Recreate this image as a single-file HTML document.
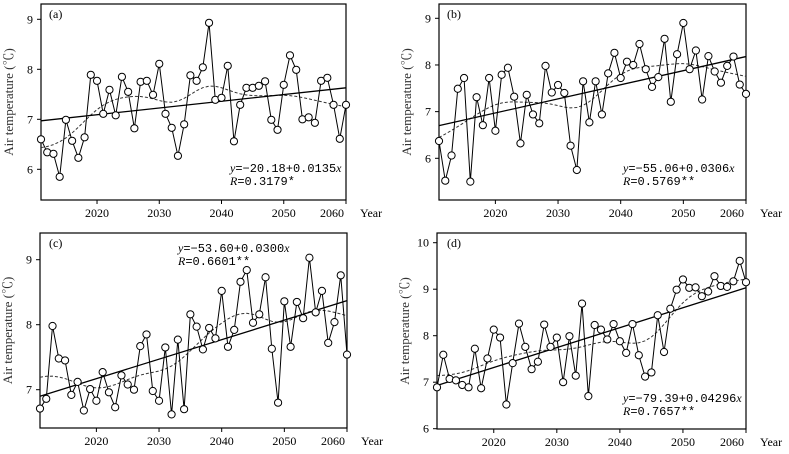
<!DOCTYPE html>
<html><head><meta charset="utf-8"><style>
body{margin:0;background:#fff;}
svg{display:block;font-family:"Liberation Serif","Noto Serif CJK SC",serif;}
</style></head><body>
<svg id="chart" width="789" height="454" viewBox="0 0 789 454" xmlns="http://www.w3.org/2000/svg"></svg>
<script>
const years = Array.from({length:50},(_,i)=>2011+i);
const xTicks = [2020,2030,2040,2050,2060];
const seriesA = [6.6,6.34,6.31,5.85,6.99,6.57,6.23,6.64,7.89,7.77,7.11,7.59,7.08,7.85,7.55,6.82,7.75,7.77,7.49,8.11,7.11,6.83,6.27,6.9,7.88,7.77,8.04,8.93,7.39,7.43,8.07,6.56,7.29,7.63,7.63,7.67,7.76,6.99,6.79,7.69,8.28,7.99,7.0,7.04,6.93,7.77,7.83,7.29,6.61,7.29];
const seriesB = [6.37,5.52,6.06,7.49,7.72,5.5,7.31,6.71,7.72,6.59,7.79,7.94,7.32,6.32,7.36,6.94,6.75,7.98,7.41,7.57,7.4,6.27,5.75,7.65,6.77,7.65,6.94,7.82,8.26,7.72,8.07,8.0,8.45,7.91,7.53,7.74,8.56,7.21,8.23,8.9,7.91,8.31,7.26,8.19,7.86,7.62,7.98,8.18,7.58,7.38];
const seriesC = [6.71,6.86,7.98,7.48,7.45,6.92,7.12,6.68,7.01,6.83,7.27,6.96,6.73,7.22,7.08,7.0,7.67,7.85,6.98,6.83,7.65,6.62,7.77,6.7,8.16,7.97,7.62,7.95,7.79,8.52,7.66,7.92,8.66,8.84,8.03,8.16,8.73,7.63,6.8,8.36,7.66,8.35,8.1,9.03,8.19,8.52,7.72,8.04,8.76,7.54];
const seriesD = [6.89,7.59,7.07,7.04,6.94,6.89,7.72,6.87,7.51,8.13,7.96,6.52,7.41,8.26,7.76,7.28,7.44,8.24,7.76,7.96,7.0,7.99,7.14,8.69,6.7,8.23,8.13,7.92,8.25,7.88,7.63,8.25,7.58,7.12,7.21,8.44,7.65,8.58,8.99,9.21,9.03,9.04,8.85,8.95,9.28,9.07,9.05,9.17,9.61,9.15];
const trendStart = [6.97,6.7,6.9,6.93];
const trendEnd = [7.63,8.18,8.37,9.03];
const yTicksA=[6,7,8,9], yTicksB=[6,7,8,9], yTicksC=[7,8,9], yTicksD=[6,7,8,9,10];
const labels=["(a)","(b)","(c)","(d)"];
const eqNums=["−20.18+0.0135","−55.06+0.0306","−53.60+0.0300","−79.39+0.04296"];
const rs=["0.3179*","0.5769**","0.6601**","0.7657**"];

const NS="http://www.w3.org/2000/svg";
const svg=document.getElementById('chart');
function mk(tag,attrs,parent){const e=document.createElementNS(NS,tag);for(const k in attrs)e.setAttribute(k,attrs[k]);(parent||svg).appendChild(e);return e;}
function span(parent,txt,italic,font){const s=mk('tspan',{},parent);if(italic)s.setAttribute('font-style','italic');if(font)s.setAttribute('font-family',font);s.textContent=txt;return s;}

const panels=[
 {data:seriesA,ticks:yTicksA,x0:41,x1:346,top:4,bot:200,vA:9,yA:19.3,vB:6,yB:169.3,eqX:230,eqY:172,lx:49,ly:18},
 {data:seriesB,ticks:yTicksB,x0:439,x1:746,top:4,bot:200,vA:9,yA:18.3,vB:6,yB:158.3,eqX:623,eqY:172,lx:447,ly:18},
 {data:seriesC,ticks:yTicksC,x0:40,x1:347,top:233,bot:428,vA:9,yA:259.7,vB:7,yB:389.7,eqX:178,eqY:252,lx:49,ly:247},
 {data:seriesD,ticks:yTicksD,x0:437,x1:746,top:233,bot:429,vA:10,yA:242.7,vB:6,yB:428.7,eqX:623,eqY:402,lx:447,ly:247}
];

panels.forEach((p,pi)=>{
 const g=mk('g',{});
 
 
 const xs=y=>p.x0+(y-2011)*(p.x1-p.x0)/49;
 const ys=v=>p.yB+(v-p.vB)*(p.yA-p.yB)/(p.vA-p.vB);
 const frame=mk('rect',{x:p.x0,y:p.top,width:p.x1-p.x0,height:p.bot-p.top,fill:'none',stroke:'#000','stroke-width':1.2},g);
 
 
 p.ticks.forEach(t=>{
  const yy=ys(t);
  mk('line',{x1:p.x0-4,x2:p.x0,y1:yy,y2:yy,stroke:'#000'},g);
  const tl=mk('text',{x:p.x0-8,y:yy+4,'text-anchor':'end','font-size':12},g);
  tl.textContent=t;
  
  
 });
 xTicks.forEach(t=>{
  const xx=xs(t);
  mk('line',{x1:xx,x2:xx,y1:p.bot,y2:p.bot+4,stroke:'#000'},g);
  const last=t===2060;
  const tl=mk('text',{x:last?xx-2:xx,y:p.bot+17,'text-anchor':last?'end':'middle','font-size':12},g);
  tl.textContent=t;
  
  
 });
 const yr=mk('text',{x:p.x1+14,y:p.bot+17,'font-size':12},g);
 yr.textContent='Year';
 
 
 const cy=(p.top+p.bot)/2, cx=p.x0-28;
 const yt=mk('text',{x:cx,y:cy,'text-anchor':'middle','font-size':13,fill:'#333',transform:`rotate(-90 ${cx} ${cy})`},g);
 yt.textContent='Air temperature (℃)';
 
 
 const lb=mk('text',{x:p.lx,y:p.ly,'font-size':12},g);
 lb.textContent=labels[pi];
 
 
 const sm=p.data.map((_,i)=>{let s=0,w=0;p.data.forEach((v,j)=>{const ww=Math.exp(-((i-j)**2)/(2*3.3*3.3));s+=ww*v;w+=ww;});return s/w;});
 const sd=mk('polyline',{points:sm.map((v,i)=>xs(years[i])+','+ys(v)).join(' '),fill:'none',stroke:'#333','stroke-width':1,'stroke-dasharray':'3,2'},g);
 
 
 const tr=mk('line',{x1:xs(2011),y1:ys(trendStart[pi]),x2:xs(2060),y2:ys(trendEnd[pi]),stroke:'#000','stroke-width':1.3},g);
 
 
 const ln=mk('polyline',{points:p.data.map((v,i)=>xs(years[i])+','+ys(v)).join(' '),fill:'none',stroke:'#000','stroke-width':1},g);
 
 
 p.data.forEach((v,i)=>{
  const c=mk('circle',{cx:xs(years[i]),cy:ys(v),r:3.6,fill:'#fff',stroke:'#000','stroke-width':1},g);
  
  
 });
 const e1=mk('text',{x:p.eqX,y:p.eqY,'font-size':12},g);
 span(e1,'y',true); span(e1,'='+eqNums[pi],false,'Liberation Mono'); span(e1,'x',true);
 
 
 const e2=mk('text',{x:p.eqX,y:p.eqY+13,'font-size':12},g);
 span(e2,'R',true); span(e2,'='+rs[pi],false,'Liberation Mono');
 
 
});
</script>
</body></html>
